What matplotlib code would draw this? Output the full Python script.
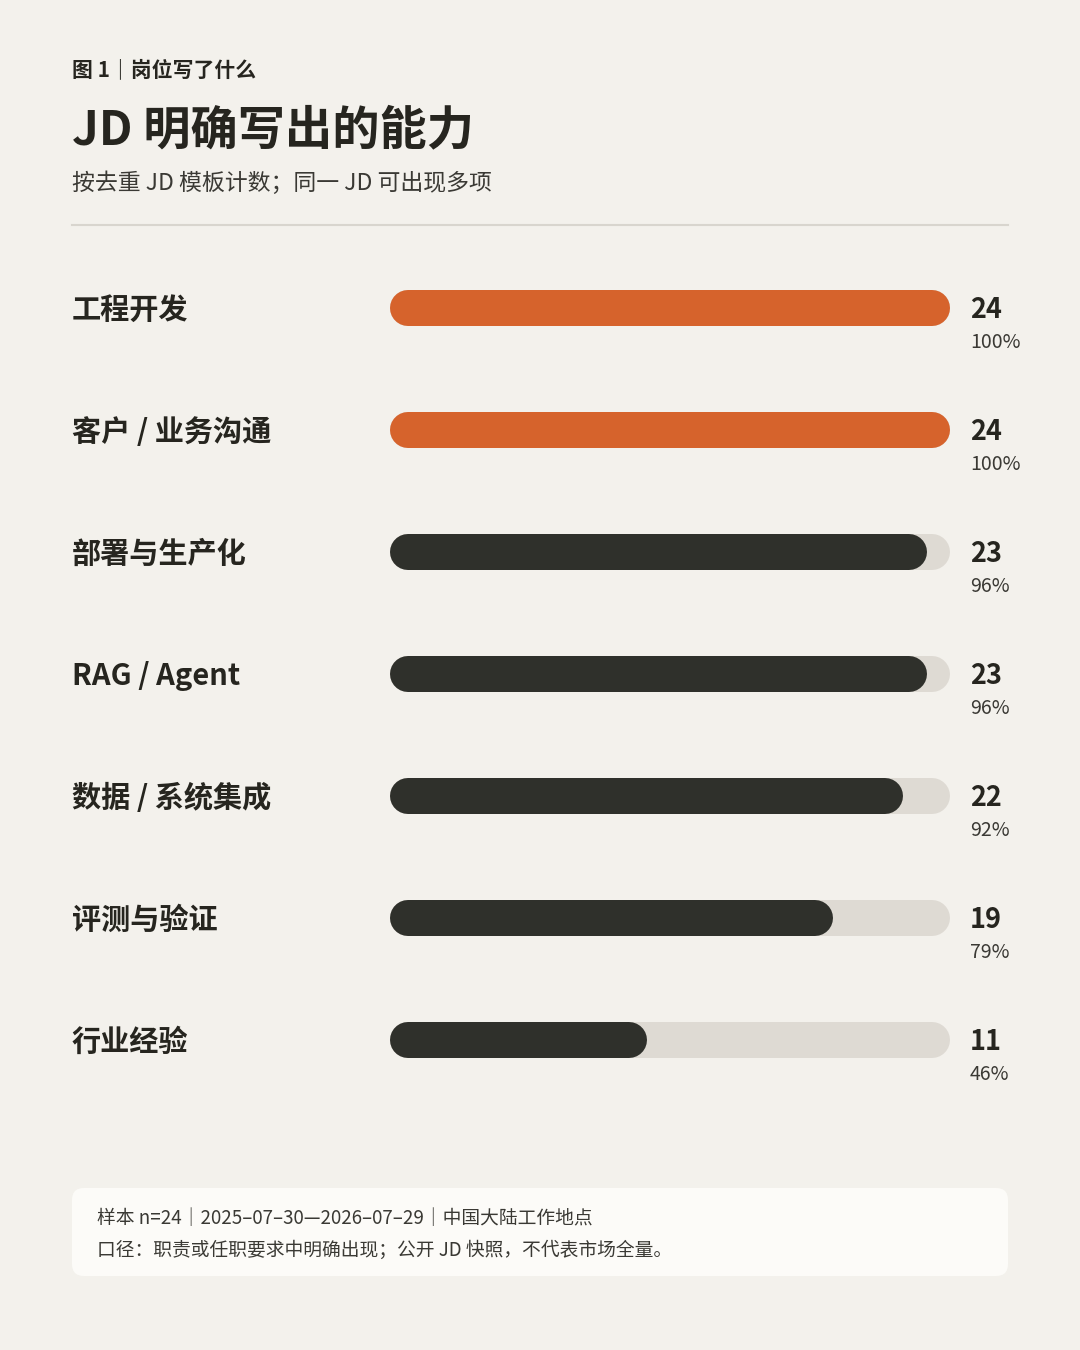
import matplotlib
matplotlib.use("Agg")
import matplotlib.pyplot as plt
from matplotlib.patches import FancyBboxPatch

plt.rcParams['font.family'] = ['Noto Sans CJK SC', 'DejaVu Sans']

categories = ["工程开发", "客户 / 业务沟通", "部署与生产化", "RAG / Agent", "数据 / 系统集成", "评测与验证", "行业经验"]
counts = [24, 24, 23, 23, 22, 19, 11]
percents = ["100%", "100%", "96%", "96%", "92%", "79%", "46%"]
total = 24
highlight = [True, True, False, False, False, False, False]

BG = "#F3F1EC"; ORANGE = "#D6632C"; DARK = "#2F302B"; TRACK = "#DEDAD3"; TXT = "#26251F"

fig = plt.figure(figsize=(10.8, 13.5), dpi=100, facecolor=BG)
base = fig.add_axes([0, 0, 1, 1]); base.set_xlim(0, 1080); base.set_ylim(1350, 0); base.axis("off")

base.text(72, 70, "图 1｜岗位写了什么", fontsize=15, fontweight="bold", color=TXT, va="center")
base.text(72, 130, "JD 明确写出的能力", fontsize=34, fontweight="bold", color=TXT, va="center")
base.text(72, 183, "按去重 JD 模板计数；同一 JD 可出现多项", fontsize=16.5, color="#3A3934", va="center")
base.plot([72, 1008], [225, 225], color="#D8D5CE", lw=1.5)

base.add_patch(FancyBboxPatch((72, 1188), 936, 88, boxstyle="round,pad=0,rounding_size=12",
                              fc="#FCFBF8", ec="none"))
base.text(97, 1218, "样本 n=24｜2025–07–30—2026–07–29｜中国大陆工作地点", fontsize=13.5, color="#3A3934", va="center")
base.text(97, 1250, "口径：职责或任职要求中明确出现；公开 JD 快照，不代表市场全量。", fontsize=13.5, color="#3A3934", va="center")

# bar axes: x 390..950 px, y rows
x0, x1 = 390, 950
top_c, step = 308, 122
n = len(categories)
ytop = top_c - step / 2
ybot = top_c + step * (n - 1) + step / 2
ax = fig.add_axes([x0 / 1080, 1 - ybot / 1350, (x1 - x0) / 1080, (ybot - ytop) / 1350])
ax.set_xlim(0, total); ax.set_ylim(n - 0.5, -0.5); ax.axis("off")
lw_pt = 36 * 72 / 100
r = total * 18 / (x1 - x0)
for i, (c, v) in enumerate(zip(categories, counts)):
    ax.plot([r, total - r], [i, i], color=TRACK, lw=lw_pt, solid_capstyle="round")
    ax.plot([r, v - r], [i, i], color=ORANGE if highlight[i] else DARK, lw=lw_pt, solid_capstyle="round")
    yc = top_c + step * i
    base.text(72, yc + 2, c, fontsize=21, fontweight="bold", color=TXT, va="center")
    base.text(970, yc + 2, str(v), fontsize=19.5, fontweight="bold", color=TXT, va="center")
    base.text(970, yc + 35, percents[i], fontsize=14, color="#3A3934", va="center")

fig.savefig("out.png", dpi=100, facecolor=BG)
